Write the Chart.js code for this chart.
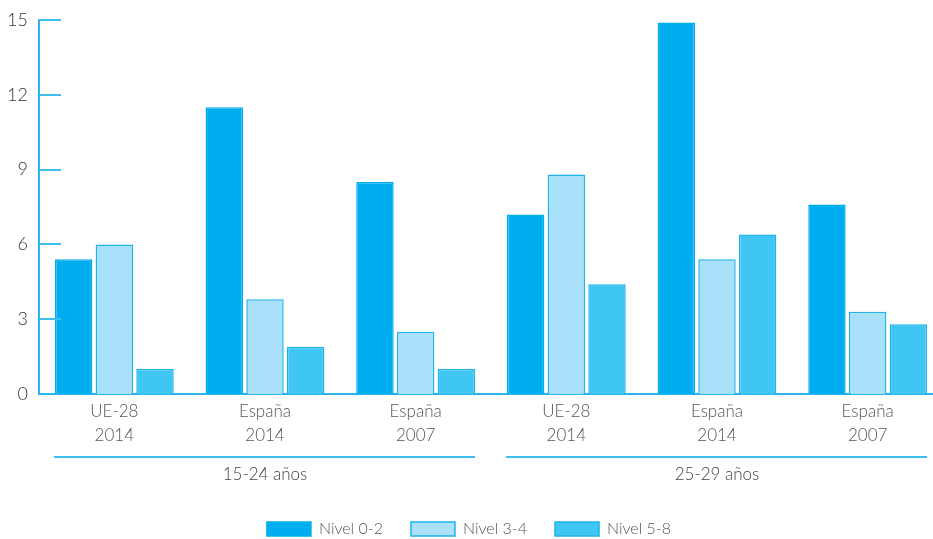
<!DOCTYPE html>
<html>
<head>
<meta charset="utf-8">
<script src="https://cdn.jsdelivr.net/npm/chart.js@4/dist/chart.umd.min.js"></script>
<style>
html,body{margin:0;padding:0;background:#fff;overflow:hidden;}
#wrap{width:933px;height:539px;overflow:hidden;position:relative;}
#box{width:943px;height:539px;position:absolute;left:0;top:0;}
</style>
</head>
<body>
<div id="wrap"><div id="box"><canvas id="c"></canvas></div></div>
<script>
const categories = [['UE-28','2014'],['España','2014'],['España','2007'],['UE-28','2014'],['España','2014'],['España','2007']];
const groups = ['15-24 años','25-29 años'];
const groupSpans = [[0,2],[3,5]];
const seriesNames = ['Nivel 0-2','Nivel 3-4','Nivel 5-8'];
const nivel02 = [5.4, 11.5, 8.5, 7.2, 14.9, 7.6];
const nivel34 = [6.0, 3.8, 2.5, 8.8, 5.4, 3.3];
const nivel58 = [1.0, 1.9, 1.0, 4.4, 6.4, 2.8];
const yTicks = [0, 3, 6, 9, 12, 15];

const FONT = 'Lato, "DejaVu Sans", sans-serif';
const AXIS = '#29B6EE';

const extras = {
  id: 'extras',
  afterDraw(chart) {
    const ctx = chart.ctx, x = chart.scales.x, y = chart.scales.y, a = chart.chartArea;
    ctx.save();
    ctx.strokeStyle = '#3DBEEE';
    ctx.lineWidth = 2;
    yTicks.forEach(v => {
      if (v === 0) return;
      const py = Math.round(y.getPixelForValue(v));
      ctx.beginPath(); ctx.moveTo(a.left, py); ctx.lineTo(a.left + 22, py); ctx.stroke();
    });
    const w = x.getPixelForValue(1) - x.getPixelForValue(0);
    ctx.fillStyle = '#444';
    ctx.font = '300 17px ' + FONT;
    ctx.textAlign = 'center';
    ctx.textBaseline = 'middle';
    groupSpans.forEach((s, i) => {
      const x0 = x.getPixelForValue(s[0]) - w / 2 + 15;
      const x1 = x.getPixelForValue(s[1]) + w / 2 - 16;
      ctx.beginPath(); ctx.moveTo(x0, 457); ctx.lineTo(x1, 457); ctx.stroke();
      ctx.fillText(groups[i], (x.getPixelForValue(s[0]) + x.getPixelForValue(s[1])) / 2, 475);
    });
    ctx.restore();
  }
};

new Chart(document.getElementById('c'), {
  type: 'bar',
  data: {
    labels: categories,
    datasets: [
      { label: seriesNames[0], data: nivel02, backgroundColor: '#00AEEF', borderColor: '#00AEEF', borderWidth: 1.5 },
      { label: seriesNames[1], data: nivel34, backgroundColor: '#A9E0FA', borderColor: '#1EB4EC', borderWidth: 1.5 },
      { label: seriesNames[2], data: nivel58, backgroundColor: '#40C6F3', borderColor: '#1EB4EC', borderWidth: 1.5 }
    ]
  },
  options: {
    responsive: true,
    maintainAspectRatio: false,
    animation: false,
    devicePixelRatio: 1,
    layout: { padding: { left: -5, right: 0, top: 19, bottom: -8 } },
    categoryPercentage: 0.81,
    barPercentage: 0.92,
    plugins: {
      legend: {
        position: 'bottom',
        labels: {
          boxWidth: 44, boxHeight: 14, padding: 28,
          color: '#555',
          font: { family: FONT, size: 16, weight: '300' }
        }
      },
      tooltip: { enabled: false }
    },
    scales: {
      x: {
        grid: { display: false, drawTicks: false },
        border: { color: AXIS, width: 2 },
        ticks: { color: '#555', font: { family: FONT, size: 17, lineHeight: 1.4, weight: '300' }, padding: 6, maxRotation: 0, autoSkip: false },
        afterFit(s) { s.height = 99; }
      },
      y: {
        min: 0, max: 15,
        grid: { display: false, drawTicks: false },
        border: { color: AXIS, width: 2 },
        ticks: { stepSize: 3, color: '#333', font: { family: FONT, size: 18, weight: '300', lineHeight: 1.0 }, padding: 11 },
        afterFit(s) { s.width = 44; }
      }
    }
  },
  plugins: [extras]
});
</script>
</body>
</html>
